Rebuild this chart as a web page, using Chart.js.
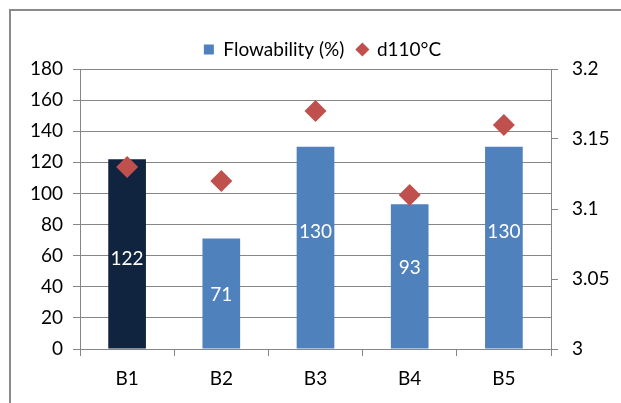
<!DOCTYPE html>
<html>
<head>
<meta charset="utf-8">
<script src="https://cdn.jsdelivr.net/npm/chart.js@4"></script>
<style>
  body { margin: 0; background: #fff; }
  #frame { position: absolute; left: 9px; top: 9px; width: 640px; height: 420px; border: 2px solid #8a8a8a; }
  #wrap { position: absolute; left: 0; top: 0; width: 621px; height: 403px; }
</style>
</head>
<body>
<div id="frame"></div>
<div id="wrap"><canvas id="chart"></canvas></div>
<script>
const categories = ["B1", "B2", "B3", "B4", "B5"];
const flowability = [122, 71, 130, 93, 130];
const d110 = [3.13, 3.12, 3.17, 3.11, 3.16];
const barColors = ["#10243F", "#4F81BD", "#4F81BD", "#4F81BD", "#4F81BD"];

const FONT = "Lato";

// white value labels inside the bars (hand-placed in the original, so
// each one sits at its own height on the left axis)
const labelHeights = [58, 35, 75, 52, 75];
const barLabels = {
  id: "barLabels",
  afterDatasetsDraw(chart) {
    const c = chart.ctx;
    const meta = chart.getDatasetMeta(0);
    const y = chart.scales.y;
    c.save();
    c.fillStyle = "#fff";
    c.font = "19px " + FONT;
    c.textAlign = "center";
    c.textBaseline = "middle";
    meta.data.forEach((bar, i) => {
      c.fillText(flowability[i], bar.x, y.getPixelForValue(labelHeights[i]));
    });
    c.restore();
  }
};

const ctx = document.getElementById("chart").getContext("2d");
const chart = new Chart(ctx, {
  type: "bar",
  data: {
    labels: categories,
    datasets: [{
      label: "Flowability (%)",
      data: flowability,
      backgroundColor: barColors,
      pointStyle: "rect",
      barPercentage: 0.8,
      categoryPercentage: 0.5,
      yAxisID: "y",
      order: 2
    }, {
      type: "line",
      label: "d110°C",
      data: d110,
      showLine: false,
      pointStyle: "rectRot",
      pointRadius: 11,
      pointHoverRadius: 11,
      backgroundColor: "#C0504D",
      borderColor: "#C0504D",
      borderWidth: 0,
      yAxisID: "y1",
      order: 1
    }]
  },
  options: {
    responsive: true,
    maintainAspectRatio: false,
    animation: false,
    layout: { padding: { top: 27, left: 24 } },
    plugins: {
      legend: {
        labels: {
          usePointStyle: true,
          boxWidth: 10,
          boxHeight: 10,
          color: "#000",
          font: { family: FONT, size: 19 },
          padding: 13,
          generateLabels(chart) {
            return [
              { text: "Flowability (%)", fillStyle: "#4F81BD", strokeStyle: "#4F81BD", lineWidth: 0, pointStyle: "rect", datasetIndex: 0 },
              { text: "d110°C", fillStyle: "#C0504D", strokeStyle: "#C0504D", lineWidth: 0, pointStyle: "rectRot", datasetIndex: 1 }
            ];
          }
        }
      },
      tooltip: { enabled: false }
    },
    scales: {
      x: {
        offset: true,
        grid: { offset: true, drawOnChartArea: false, color: "#868686", tickLength: 7 },
        border: { color: "#868686" },
        ticks: { color: "#000", font: { family: FONT, size: 19 }, padding: 11 },
        afterFit(s) { s.height = 54; }
      },
      y: {
        position: "left",
        min: 0,
        max: 180,
        ticks: { stepSize: 20, color: "#000", font: { family: FONT, size: 19 }, padding: 10 },
        grid: { color: "#868686", tickLength: 7 },
        border: { color: "#868686" },
        afterFit(s) { s.width = 56; }
      },
      y1: {
        position: "right",
        min: 3,
        max: 3.2,
        ticks: {
          stepSize: 0.05,
          color: "#000",
          font: { family: FONT, size: 19 },
          padding: 14,
          callback: v => String(Number(v.toFixed(2)))
        },
        grid: { drawOnChartArea: false, color: "#868686", tickLength: 7 },
        border: { color: "#868686" },
        afterFit(s) { s.width = 70; }
      }
    }
  },
  plugins: [barLabels]
});
</script>
</body>
</html>
